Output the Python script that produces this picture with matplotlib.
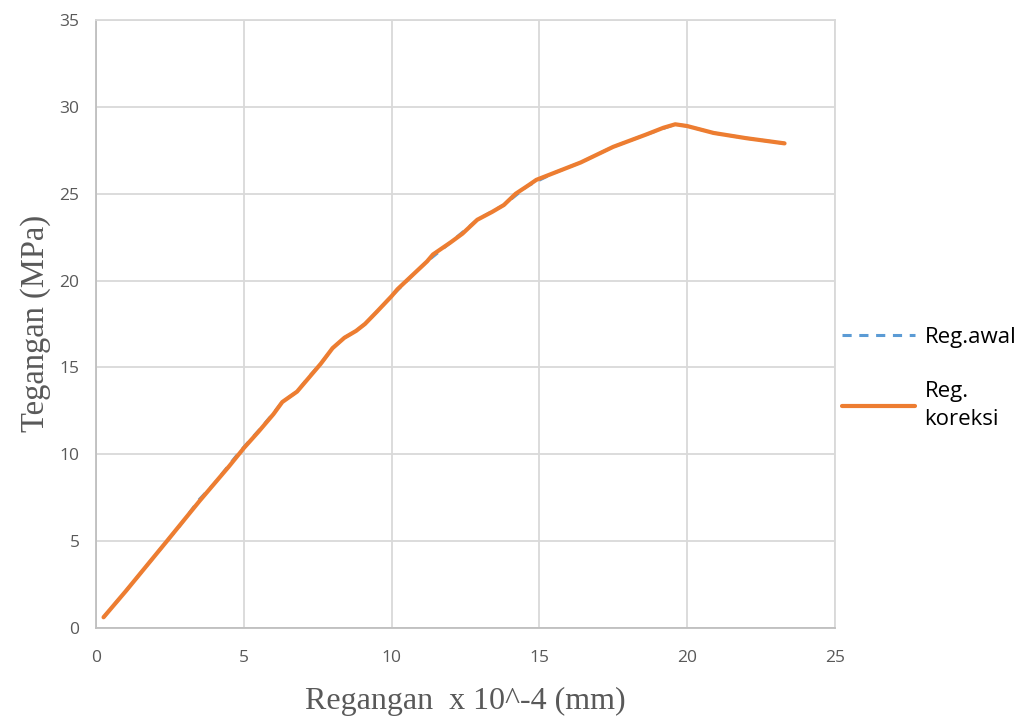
import numpy as np
from matplotlib import pyplot as plt

# strain (x 10^-4) and stress (MPa)
regangan_koreksi = [0.25, 1.0, 2.4, 3.5, 4.5, 5.0, 5.5, 6.0, 6.3, 6.8, 7.2, 7.6, 8.0, 8.4,
                    8.8, 9.1, 9.5, 10.0, 10.2, 10.7, 11.2, 11.4, 12.0, 12.4, 12.65, 12.9,
                    13.4, 13.8, 14.2, 14.6, 14.9, 15.5, 16.4, 17.5, 18.6, 19.2, 19.6, 20.0,
                    20.9, 22.0, 23.3]
tegangan_koreksi = [0.6, 2.1, 5.0, 7.3, 9.3, 10.35, 11.3, 12.3, 13.0, 13.6, 14.4, 15.2, 16.1,
                    16.7, 17.1, 17.5, 18.2, 19.1, 19.5, 20.3, 21.1, 21.5, 22.2, 22.7, 23.1,
                    23.5, 23.95, 24.35, 25.0, 25.45, 25.8, 26.2, 26.8, 27.7, 28.4, 28.8, 29.0,
                    28.9, 28.5, 28.2, 27.9]

regangan_awal = [0.25, 1.0, 2.4, 2.8, 3.5, 4.0, 4.7, 5.0, 5.5, 6.0, 6.3, 6.8, 7.2, 7.6, 8.0,
                 8.4, 8.8, 9.1, 9.5, 10.0, 10.7, 11.2, 12.0, 12.9, 13.8, 14.6, 15.5, 16.4,
                 17.5, 18.6, 19.6, 20.0, 20.9, 22.0, 23.3]
tegangan_awal = [0.6, 2.1, 5.0, 5.8, 7.4, 8.3, 9.8, 10.4, 11.35, 12.35, 13.0, 13.6, 14.45,
                 15.2, 16.1, 16.7, 17.1, 17.5, 18.2, 19.1, 20.3, 21.1, 22.2, 23.5, 24.35,
                 25.45, 26.2, 26.8, 27.7, 28.4, 29.0, 28.9, 28.5, 28.2, 27.9]

fig = plt.figure(figsize=(10.23, 7.19), dpi=100)
ax = fig.add_axes([0.094, 0.127, 0.722, 0.845])

ax.plot(regangan_awal, tegangan_awal, color='#5B9BD5', lw=2.2, ls=(0, (3, 2.5)), label='Reg.awal')
ax.plot(regangan_koreksi, tegangan_koreksi, color='#ED7D31', lw=3, label='Reg.\nkoreksi',
        solid_capstyle='round', solid_joinstyle='round')

ax.set_xlim(0, 25)
ax.set_ylim(0, 35)
ax.set_xticks(np.arange(0, 26, 5))
ax.set_yticks(np.arange(0, 36, 5))
ax.grid(True, color='#D9D9D9', lw=1.3)
ax.set_axisbelow(True)
for s in ax.spines.values():
    s.set_color('#D9D9D9')
    s.set_linewidth(1.3)
ax.spines['left'].set_color('#BFBFBF')
ax.spines['bottom'].set_color('#BFBFBF')
ax.tick_params(length=0, labelsize=12.5, colors='#595959')
ax.tick_params(axis='x', pad=16)
ax.tick_params(axis='y', pad=12)
for lbl in ax.get_xticklabels() + ax.get_yticklabels():
    lbl.set_fontfamily('Open Sans')

ax.set_xlabel('Regangan  x 10^-4 (mm)', fontfamily='Liberation Serif', fontsize=23,
              color='#595959', labelpad=15)
ax.set_ylabel('Tegangan (MPa)', fontfamily='Liberation Serif', fontsize=23.5,
              color='#595959', labelpad=6)

leg = ax.legend(loc='center left', bbox_to_anchor=(1.01, 0.41), frameon=False,
                handlelength=3.3, labelspacing=1.5, handletextpad=0.4,
                borderaxespad=0, borderpad=0,
                prop={'family': 'Open Sans', 'size': 16})
for t in leg.get_texts():
    t.set_color('#000000')
    t.set_linespacing(1.45)

fig.savefig('out.png', dpi=100)
